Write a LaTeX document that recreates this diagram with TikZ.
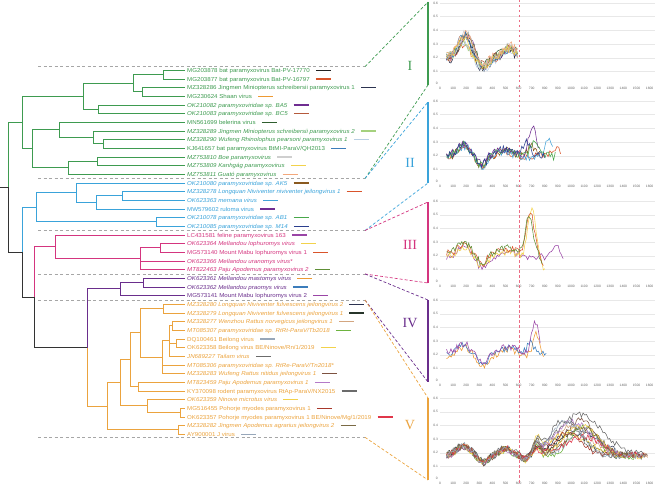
\documentclass[tikz,border=0pt]{standalone}
\usepackage{fontspec}
\setmainfont{Liberation Serif}
\newfontfamily\tipfont{Liberation Sans}[FakeStretch=1.08]
\newfontfamily\axisfont{Liberation Sans}
\usepackage{tikz}
\usetikzlibrary{calc}

\definecolor{cladeI}{HTML}{3E9B50}
\definecolor{cladeII}{HTML}{3AA3DA}
\definecolor{cladeIII}{HTML}{D4357F}
\definecolor{cladeIV}{HTML}{6A2E8C}
\definecolor{cladeV}{HTML}{EBA33E}
\definecolor{backbone}{HTML}{333333}
\definecolor{refred}{HTML}{EC6C84}
\definecolor{pBlack}{HTML}{222222}
\definecolor{pRed}{HTML}{D9542B}
\definecolor{pNavy}{HTML}{2C3350}
\definecolor{pOrange}{HTML}{EE9A33}
\definecolor{pPurple}{HTML}{6F2D91}
\definecolor{pBrick}{HTML}{B55A3C}
\definecolor{pDkGreen}{HTML}{2F5E2E}
\definecolor{pLtGreen}{HTML}{A5D17E}
\definecolor{pLtBlue}{HTML}{B9CFE4}
\definecolor{pBlue}{HTML}{3C7DBB}
\definecolor{pLtGray}{HTML}{CFCFCF}
\definecolor{pYellow}{HTML}{F2D24B}
\definecolor{pPeach}{HTML}{F3A87C}
\definecolor{pBrown}{HTML}{8A5A1F}
\definecolor{pSky}{HTML}{45A3D8}
\definecolor{pGreen}{HTML}{48A84A}
\definecolor{pDkBlue}{HTML}{2B3F8E}
\definecolor{pViolet}{HTML}{9A45A6}
\definecolor{pOlGreen}{HTML}{5E8F36}
\definecolor{pBlkGreen}{HTML}{27352A}
\definecolor{pTan}{HTML}{D3A680}
\definecolor{pGreenB}{HTML}{6DB33F}
\definecolor{pGrayBlue}{HTML}{97A7BA}
\definecolor{pGray}{HTML}{6B6B6B}
\definecolor{pBrownB}{HTML}{7D5240}
\definecolor{pMauve}{HTML}{B47AC8}
\definecolor{pDkRed}{HTML}{A8382B}
\definecolor{pCrimson}{HTML}{E0364A}
\definecolor{pOlive}{HTML}{7A6A45}

\begin{document}
\begin{tikzpicture}[x=1pt, y=-1pt,
    declare function={gs(\u)=exp(0-min(\u*\u,9));},
    branch/.style={line width=0.9pt},
    taxon/.style={anchor=west, inner xsep=2pt, inner ysep=0pt, text height=4.1pt, text depth=0pt,
        font=\tipfont\fontsize{5.7}{7}\selectfont},
    taxonit/.style={taxon, font=\tipfont\fontsize{5.7}{7}\selectfont\itshape},
    legbar/.style={line width=1.3pt},
    sepline/.style={gray!70, line width=0.6pt, dash pattern=on 3pt off 2.5pt},
    cladelink/.style={line width=0.7pt, dash pattern=on 3pt off 2pt},
    clbar/.style={line width=1.3pt},
    cladenum/.style={font=\fontsize{14}{16}\selectfont},
    gridline/.style={gray!18, line width=0.3pt},
    axlab/.style={font=\axisfont\fontsize{3.3}{4}\selectfont, text=gray!80!black, inner sep=0.5pt},
    refline/.style={draw=refred, line width=0.9pt, dash pattern=on 2.5pt off 2.5pt},
    datacurve/.style={line width=0.55pt}
]
    \useasboundingbox (0,0) rectangle (658,489);
    \pgfmathsetseed{7}

    % Separators between clades
    \foreach \k/\yy in {0/66.7, 1/178.5, 2/230.5, 3/274, 4/300, 5/437.3}{
        \coordinate (s\k) at (38,\yy);
        \coordinate (d\k) at (365,\yy);
        \draw[sepline] (s\k) -- (d\k);
    }

    % Tip labels
    \foreach \idx/\sty/\txt in {1/taxon/MG203878 bat paramyxovirus Bat-PV-17770,
        2/taxon/MG203877 bat paramyxovirus Bat-PV-16797,
        3/taxon/MZ328286 Jingmen Miniopterus schreibersii paramyxovirus 1,
        4/taxon/MG230624 Shaan virus,
        5/taxonit/OK210082 paramyxoviridae sp. BA5,
        6/taxonit/OK210083 paramyxoviridae sp. BC5,
        7/taxon/MN561699 belerina virus,
        8/taxonit/MZ328289 Jingmen Miniopterus schreibersii paramyxovirus 2,
        9/taxonit/MZ328290 Wufeng Rhinolophus pearsoni paramyxovirus 1,
        10/taxon/{KJ641657 bat paramyxovirus BtMI-ParaV/QH2013},
        11/taxonit/MZ753810 Boe paramyxovirus,
        12/taxonit/MZ753809 Kanhgág paramyxovirus,
        13/taxonit/MZ753811 Guató paramyxovirus}
        \node[\sty, text=cladeI] (t\idx) at (185,{70.3+8.667*(\idx-1)}) {\txt};
    \foreach \idx/\sty/\txt in {14/taxonit/OK210080 paramyxoviridae sp. AK5,
        15/taxonit/MZ328278 Longquan Niviventer niviventer jeilongvirus 1,
        16/taxonit/OK623363 memana virus,
        17/taxon/MW579602 ruloma virus,
        18/taxonit/OK210078 paramyxoviridae sp. AB1,
        19/taxonit/OK210085 paramyxoviridae sp. M14}
        \node[\sty, text=cladeII] (t\idx) at (185,{70.3+8.667*(\idx-1)}) {\txt};
    \foreach \idx/\sty/\txt in {20/taxon/LC431581 feline paramyxovirus 163,
        21/taxonit/OK623364 Mellandou lophuromys virus,
        22/taxon/MG573140 Mount Mabu lophuromys virus 1,
        23/taxonit/OK623366 Mellandou uranomys virus*,
        24/taxonit/MT822463 Paju Apodemus paramyxovirus 2}
        \node[\sty, text=cladeIII] (t\idx) at (185,{70.3+8.667*(\idx-1)}) {\txt};
    \foreach \idx/\sty/\txt in {25/taxonit/OK623361 Mellandou mastomys virus,
        26/taxonit/OK623362 Mellandou praomys virus,
        27/taxon/MG573141 Mount Mabu lophuromys virus 2}
        \node[\sty, text=cladeIV] (t\idx) at (185,{70.3+8.667*(\idx-1)}) {\txt};
    \foreach \idx/\sty/\txt in {28/taxonit/MZ328280 Longquan Niviventer fulvescens jeilongvirus 2,
        29/taxonit/MZ328279 Longquan Niviventer fulvescens jeilongvirus 1,
        30/taxonit/MZ328277 Wenzhou Rattus norvegicus jeilongvirus 1,
        31/taxonit/{MT085307 paramyxoviridae sp. RtRt-ParaV/Tb2018},
        32/taxon/DQ100461 Beilong virus,
        33/taxon/{OK623358 Beilong virus BE/Ninove/Rn/1/2019},
        34/taxonit/JN689227 Tailam virus,
        35/taxonit/{MT085306 paramyxoviridae sp. RtRe-ParaV/Tn2018*},
        36/taxonit/MZ328283 Wufeng Rattus nitidus jeilongvirus 1,
        37/taxonit/MT823459 Paju Apodemus paramyxovirus 1,
        38/taxon/{KY370098 rodent paramyxovirus RtAp-ParaV/NX2015},
        39/taxonit/OK623359 Ninove microtus virus,
        40/taxon/MG516455 Pohorje myodes paramyxovirus 1,
        41/taxon/{OK623357 Pohorje myodes paramyxovirus 1 BE/Ninove/Mg/1/2019},
        42/taxonit/MZ328282 Jingmen Apodemus agrarius jeilongvirus 2,
        43/taxon/AY900001 J virus}
        \node[\sty, text=cladeV] (t\idx) at (185,{70.3+8.667*(\idx-1)}) {\txt};

    % Colour keys of the profiles
    \foreach \idx/\col in {1/pBlack, 2/pRed, 3/pNavy, 4/pOrange, 5/pPurple, 6/pBrick,
        7/pDkGreen, 8/pLtGreen, 9/pLtBlue, 10/pBlue, 11/pLtGray, 12/pYellow, 13/pPeach,
        14/pBrown, 15/pRed, 16/pSky, 17/pPurple, 18/pGreen, 19/pDkBlue,
        20/pViolet, 21/pYellow, 22/pRed, 24/pOlGreen, 25/pOrange, 26/pBlue, 27/pViolet,
        28/pNavy, 29/pBlkGreen, 30/pTan, 31/pGreenB, 32/pGrayBlue, 33/pYellow, 34/pGray,
        36/pBrownB, 37/pMauve, 38/pGray, 39/pYellow, 40/pDkRed, 41/pCrimson, 42/pOlive, 43/pGrayBlue}
        \draw[legbar, \col] ([xshift=4pt]t\idx.east) -- ++(15,0);

    % Backbone
    \coordinate (stem) at (0,187.2);
    \coordinate (root) at (8,187.2);
    \coordinate (n2) at (22,252);
    \coordinate (n3) at (34,297);
    \coordinate (n4) at (87,347.5);
    % Clade I
    \coordinate (gI) at (22,122.3);
    \coordinate (g1) at (83,96);
    \coordinate (g2) at (133,83);
    \coordinate (g3) at (163,74.3);
    \coordinate (g4) at (142,91.7);
    \coordinate (g5) at (98,109);
    \coordinate (g6) at (32,148.5);
    \coordinate (g7) at (59,129.6);
    \coordinate (g8) at (93,137.2);
    \coordinate (g9) at (103,143.7);
    \coordinate (g10) at (68,167.5);
    \coordinate (g11) at (97,161);
    % Clade II
    \coordinate (bII) at (36,207);
    \coordinate (b1) at (76,192.4);
    \coordinate (b2) at (96,202.2);
    \coordinate (b3) at (122,195.7);
    \coordinate (b4) at (156,221.7);
    % Clade III
    \coordinate (mIII) at (55,246.6);
    \coordinate (m1) at (140,258.5);
    \coordinate (m2) at (160,247.7);
    % Clade IV
    \coordinate (vIV) at (120,288.8);
    \coordinate (v1) at (143,282.3);
    % Clade V
    \coordinate (oV) at (107,406.2);
    \coordinate (o1) at (120,382.7);
    \coordinate (o2) at (130,359.5);
    \coordinate (o3) at (140,332.7);
    \coordinate (o4) at (163,308.3);
    \coordinate (o5) at (162,357.1);
    \coordinate (o6) at (169,340.8);
    \coordinate (o7) at (172,325.7);
    \coordinate (o8) at (176,343);
    \coordinate (o9) at (138,386.3);
    \coordinate (o10) at (147,405.8);
    \coordinate (o11) at (180,412.3);
    \coordinate (o12) at (178,429.7);

    \draw[branch, backbone] (stem) -- (root);
    \foreach \p/\q in {root/n2, n2/n3, n3/n4}
        \draw[branch, backbone] (\p) |- (\q);
    \draw[branch, cladeI] (root) |- (gI);
    \draw[branch, cladeII] (n2) |- (bII);
    \draw[branch, cladeIII] (n3) |- (mIII);
    \draw[branch, cladeIV] (n4) |- (vIV);
    \draw[branch, cladeV] (n4) |- (oV);
    \foreach \p/\q in {gI/g1, gI/g6, g1/g2, g1/g5, g2/g3, g2/g4, g3/t1.west, g3/t2.west,
        g4/t3.west, g4/t4.west, g5/t5.west, g5/t6.west, g6/g7, g6/g10, g7/t7.west, g7/g8,
        g8/t8.west, g8/g9, g9/t9.west, g9/t10.west, g10/g11, g10/t13.west,
        g11/t11.west, g11/t12.west}
        \draw[branch, cladeI] (\p) |- (\q);
    \foreach \p/\q in {bII/b1, bII/b4, b1/t14.west, b1/b2, b2/b3, b2/t17.west,
        b3/t15.west, b3/t16.west, b4/t18.west, b4/t19.west}
        \draw[branch, cladeII] (\p) |- (\q);
    \foreach \p/\q in {mIII/t20.west, mIII/m1, m1/m2, m1/t23.west, m1/t24.west,
        m2/t21.west, m2/t22.west}
        \draw[branch, cladeIII] (\p) |- (\q);
    \foreach \p/\q in {vIV/v1, vIV/t27.west, v1/t25.west, v1/t26.west}
        \draw[branch, cladeIV] (\p) |- (\q);
    \foreach \p/\q in {oV/o1, oV/o12, o1/o2, o1/o10, o2/o3, o2/o9, o3/o4, o3/o5,
        o4/t28.west, o4/t29.west, o5/o6, o5/t35.west, o5/t36.west, o6/o7, o6/o8,
        o6/t34.west, o7/t30.west, o7/t31.west, o8/t32.west, o8/t33.west,
        o9/t37.west, o9/t38.west, o10/t39.west, o10/o11, o11/t40.west, o11/t41.west,
        o12/t42.west, o12/t43.west}
        \draw[branch, cladeV] (\p) |- (\q);

    % Panel brackets and links
    \coordinate (pIt) at (428,2);      \coordinate (pIb) at (428,85);
    \coordinate (pIIt) at (428,102);   \coordinate (pIIb) at (428,183);
    \coordinate (pIIIt) at (428,202);  \coordinate (pIIIb) at (428,283);
    \coordinate (pIVt) at (428,300);   \coordinate (pIVb) at (428,382);
    \coordinate (pVt) at (428,398);    \coordinate (pVb) at (428,480);
    \draw[cladelink, cladeI] (d0) -- (pIt);
    \draw[cladelink, cladeI] (d1) -- (pIb);
    \draw[cladelink, cladeII] (d1) -- (pIIt);
    \draw[cladelink, cladeII] (d2) -- (pIIb);
    \draw[cladelink, cladeIII] (d2) -- (pIIIt);
    \draw[cladelink, cladeIII] (d3) -- (pIIIb);
    \draw[cladelink, cladeIV] (d3) -- (pIVt);
    \draw[cladelink, cladeIV] (d4) -- (pIVb);
    \draw[cladelink, cladeV] (d4) -- (pVt);
    \draw[cladelink, cladeV] (d5) -- (pVb);
    \draw[clbar, cladeI] (pIt) -- (pIb);
    \draw[clbar, cladeII] (pIIt) -- (pIIb);
    \draw[clbar, cladeIII] (pIIIt) -- (pIIIb);
    \draw[clbar, cladeIV] (pIVt) -- (pIVb);
    \draw[clbar, cladeV] (pVt) -- (pVb);
    \node[cladenum, text=cladeI] (numI) at (410,66) {I};
    \node[cladenum, text=cladeII] (numII) at (410,163) {II};
    \node[cladenum, text=cladeIII] (numIII) at (410,245) {III};
    \node[cladenum, text=cladeIV] (numIV) at (410,323) {IV};
    \node[cladenum, text=cladeV] (numV) at (410,425) {V};

    % Profile panels
    \foreach \b in {85,183,283,382,480}{
        \begin{scope}[shift={(440,\b)}, x=0.131pt, y=136.7pt]
            \foreach \v in {1,...,6}{
                \draw[gridline] (0,\v/10) -- (1640,\v/10);
                \node[axlab, anchor=east] at (-10,\v/10) {0.\v};
            }
            \node[axlab, anchor=east] at (-12,0.01) {0};
            \foreach \t in {0,100,...,1600}
                \node[axlab] at (\t,-0.025) {\t};
        \end{scope}
    }
    \coordinate (refTop) at (519,0);
    \coordinate (refBot) at (519,484);
    \draw[refline] (refTop) -- (refBot);

    % Panel I
    \begin{scope}[shift={(440,85)}, x=0.131pt, y=136.7pt]
        \foreach \col in {pBlack,pRed,pNavy,pOrange,pPurple,pBrick,pDkGreen,pLtGreen,pLtBlue,pBlue,pLtGray,pYellow,pPeach}{
            \pgfmathsetmacro\po{0.025*rand}
            \pgfmathsetmacro\ph{25*rand}
            \pgfmathsetmacro\pk{0.14+0.05*rand}
            \draw[datacurve, \col] plot[domain=50:590, samples=50]
                (\x,{0.2+(\po)+(\pk)*gs((\x-190-(\ph))/65)-0.07*gs((\x-330)/55)+0.07*gs((\x-530)/60)+0.03*rand});
        }
    \end{scope}
    % Panel II
    \begin{scope}[shift={(440,183)}, x=0.131pt, y=136.7pt]
        \foreach \col/\pk/\pc/\pe in {pBrown/0.08/700/770, pRed/0.07/880/920, pSky/0.12/830/860,
            pPurple/0.2/705/760, pGreen/0.12/720/880, pDkBlue/0.1/660/800}{
            \pgfmathsetmacro\po{0.02*rand}
            \draw[datacurve, \col] plot[domain=50:\pe, samples=65]
                (\x,{0.2+(\po)+0.08*gs((\x-180)/60)-0.07*gs((\x-320)/50)+0.04*gs((\x-490)/80)+\pk*gs((\x-\pc)/40)+0.03*rand});
        }
    \end{scope}
    % Panel III
    \begin{scope}[shift={(440,283)}, x=0.131pt, y=136.7pt]
        \foreach \col/\pk/\pc/\pe/\pd in {pViolet/0.08/880/940/0, pYellow/0.36/700/800/1,
            pRed/0.3/690/790/1, pOlGreen/0.26/680/780/1}{
            \pgfmathsetmacro\po{0.02*rand}
            \draw[datacurve, \col] plot[domain=50:\pe, samples=70]
                (\x,{0.21+(\po)+0.07*gs((\x-180)/60)-0.08*gs((\x-320)/50)+0.03*gs((\x-520)/80)+\pk*gs((\x-\pc)/40)-0.08*\pd*gs((\x-790)/30)+0.025*rand});
        }
    \end{scope}
    % Panel IV
    \begin{scope}[shift={(440,382)}, x=0.131pt, y=136.7pt]
        \foreach \col/\pk/\pc/\pe in {pOrange/0.16/735/790, pBlue/0.08/690/810, pViolet/0.23/725/765}{
            \pgfmathsetmacro\po{0.02*rand}
            \draw[datacurve, \col] plot[domain=50:\pe, samples=65]
                (\x,{0.21+(\po)+0.06*gs((\x-180)/60)-0.08*gs((\x-330)/50)+0.04*gs((\x-520)/80)+\pk*gs((\x-\pc)/35)+0.025*rand});
        }
    \end{scope}
    % Panel V
    \begin{scope}[shift={(440,480)}, x=0.131pt, y=136.7pt]
        \foreach \col in {pNavy,pBlkGreen,pTan,pGreenB,pGrayBlue,pYellow,pGray,pBrownB,pMauve,pGray,pYellow,pDkRed,pCrimson,pOlive,pGrayBlue}{
            \pgfmathsetmacro\po{0.015*rand}
            \pgfmathsetmacro\pk{0.21+0.08*rand}
            \pgfmathsetmacro\pc{1020+90*rand}
            \pgfmathsetmacro\pw{190+50*rand}
            \pgfmathsetmacro\pe{1500+90*rand}
            \pgfmathsetmacro\ps{0.06+0.06*rand}
            \draw[datacurve, \col] plot[domain=50:\pe, samples=120]
                (\x,{0.18+(\po)+0.07*gs((\x-180)/70)-0.05*gs((\x-330)/50)+0.05*gs((\x-500)/60)-0.03*gs((\x-650)/40)+(\ps)*gs((\x-740)/35)+(\pk)*gs((\x-(\pc))/(\pw))+0.022*rand});
        }
    \end{scope}
\end{tikzpicture}
\end{document}
